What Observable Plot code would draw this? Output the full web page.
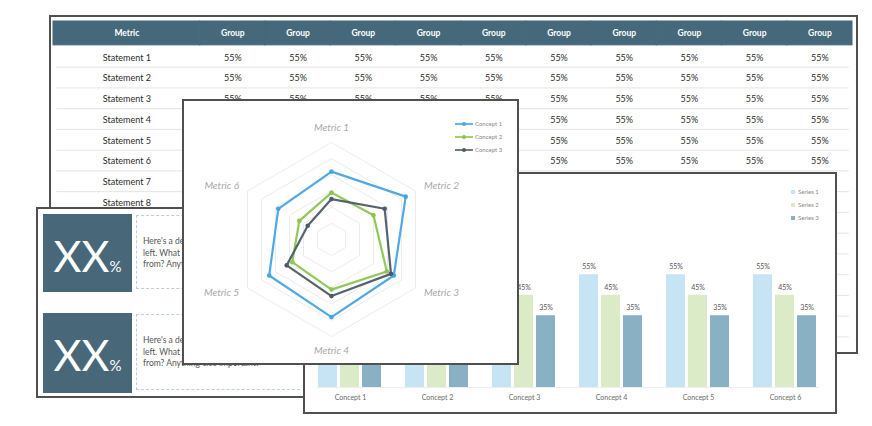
<!DOCTYPE html>
<html><head><meta charset="utf-8">
<script src="https://cdn.jsdelivr.net/npm/d3@7"></script>
<script src="https://cdn.jsdelivr.net/npm/@observablehq/plot@0.6"></script>
<style>
html,body{margin:0;padding:0;background:#fff;}
body{width:872px;height:426px;position:relative;overflow:hidden;font-family:Lato,"Open Sans",sans-serif;}
.panel{position:absolute;box-sizing:border-box;border:2px solid #505050;background:#fff;overflow:hidden;}
.panel svg{display:block;}
.legend{position:absolute;font-size:6px;color:#8a8a8a;line-height:13px;}
.legend .item{display:flex;align-items:center;height:13px;}
.card{position:absolute;left:5px;width:89px;background:#48687a;color:#fff;display:flex;justify-content:center;align-items:baseline;padding-top:16px;box-sizing:border-box;}
.card .big{font-size:43px;line-height:52px;}
.card .pct{font-size:15px;}
.dash{position:absolute;left:98px;width:164px;border-top:1.5px dashed #bccfda;border-bottom:1.5px dashed #bccfda;border-left:1px dashed #bccfda;box-sizing:border-box;}
.desc{position:absolute;left:105px;font-size:8.5px;color:#555;line-height:11.5px;white-space:nowrap;}
</style></head><body>
<div id="table" class="panel" style="left:49px;top:15px;width:809px;height:339px"></div>
<div id="cards" class="panel" style="left:36px;top:207px;width:269px;height:191px"></div>
<div id="bars" class="panel" style="left:303px;top:172px;width:534px;height:242px"></div>
<div id="radar" class="panel" style="left:182px;top:99px;width:337px;height:266px"></div>
<script>
// ---------- data ----------
const tableColumns = ["Metric","Group","Group","Group","Group","Group","Group","Group","Group","Group","Group"];
const statements = ["Statement 1","Statement 2","Statement 3","Statement 4","Statement 5","Statement 6","Statement 7","Statement 8","Statement 9","Statement 10","Statement 11","Statement 12","Statement 13","Statement 14","Statement 15"];
const tableValues = [
  [55,55,55,55,55,55,55,55,55,55],
  [55,55,55,55,55,55,55,55,55,55],
  [55,55,55,55,55,55,55,55,55,55],
  [55,55,55,55,55,55,55,55,55,55],
  [55,55,55,55,55,55,55,55,55,55],
  [55,55,55,55,55,55,55,55,55,55],
  [55,55,55,55,55,55,55,55,55,55],
  [55,55,55,55,55,55,55,55,55,55],
  [55,55,55,55,55,55,55,55,55,55],
  [55,55,55,55,55,55,55,55,55,55],
  [55,55,55,55,55,55,55,55,55,55],
  [55,55,55,55,55,55,55,55,55,55],
  [55,55,55,55,55,55,55,55,55,55],
  [55,55,55,55,55,55,55,55,55,55],
  [55,55,55,55,55,55,55,55,55,55]
];

const metrics = ["Metric 1","Metric 2","Metric 3","Metric 4","Metric 5","Metric 6"];
const conceptNames = ["Concept 1","Concept 2","Concept 3"];
const concept1 = [42, 53, 44.5, 48, 44.5, 38];
const concept2 = [29, 30, 39.5, 31, 28, 23];
const concept3 = [25, 38, 42.5, 35, 32, 17];
const ringLevels = [10, 20, 30, 40, 50, 60];
const radarColors = ["#45a5e2", "#8cc551", "#4c5b67"];

const barConcepts = ["Concept 1","Concept 2","Concept 3","Concept 4","Concept 5","Concept 6"];
const seriesNames = ["Series 1","Series 2","Series 3"];
const series1 = [55, 55, 55, 55, 55, 55];
const series2 = [45, 45, 45, 45, 45, 45];
const series3 = [35, 35, 35, 35, 35, 35];
const barColors = ["#c7e4f5", "#dcebc7", "#89b0c3"];

const cardValue = "XX";
const cardText = ["Here's a description of the number on the", "left. What does it mean? Where is it", "from? Anything else important?"];

// ---------- table ----------
{
  const header = tableColumns.map((name, i) => ({name, x1: i === 0 ? 0 : 2.25 + i - 1, x2: i === 0 ? 2.25 : 2.25 + i}));
  const cells = statements.flatMap((s, r) => tableValues[r].map((v, c) => ({row: r, col: c + 1, text: v + "%"})));
  const chart = Plot.plot({
    width: 805, height: 335, margin: 0,
    x: {domain: [0, 12.25], range: [2, 801], axis: null},
    y: {domain: [-1.2, 14.75], range: [4, 335], axis: null},
    style: {fontFamily: "Lato, sans-serif", background: "white"},
    marks: [
      Plot.rect(header, {x1: "x1", x2: "x2", y1: () => -1.2, y2: () => -0.05, fill: "#46687b", stroke: "#46687b", strokeWidth: 1}),
      Plot.text(header, {x: d => (d.x1 + d.x2) / 2, y: () => -0.62, text: "name", fill: "white", fontWeight: "bold", fontSize: 8.5}),
      Plot.ruleY(d3.range(1, statements.length), {y: d => d, x1: () => 0.05, x2: () => 12.2, stroke: "#e4e4e4"}),
      Plot.text(statements, {x: () => 1.125, y: (d, i) => i + 0.55, text: d => d, fontSize: 9, fill: "#2b2b2b"}),
      Plot.text(cells, {x: d => 2.25 + d.col - 0.5, y: d => d.row + 0.55, text: "text", fontSize: 9, fill: "#2b2b2b"})
    ]
  });
  document.getElementById("table").appendChild(chart);
}

// ---------- cards ----------
{
  const el = document.getElementById("cards");
  [0, 1].forEach(k => {
    const top = k === 0 ? 5 : 104;
    const h = k === 0 ? 78 : 80;
    const card = document.createElement("div");
    card.className = "card";
    card.style.top = top + "px"; card.style.height = h + "px";
    card.innerHTML = `<span class="big">${cardValue}</span><span class="pct">%</span>`;
    el.appendChild(card);
    const dash = document.createElement("div");
    dash.className = "dash";
    dash.style.top = (top + 1) + "px"; dash.style.height = (h - 4) + "px";
    el.appendChild(dash);
    const desc = document.createElement("div");
    desc.className = "desc";
    desc.style.top = (top + 22) + "px";
    desc.innerHTML = cardText.join("<br>");
    el.appendChild(desc);
  });
}

// ---------- bars ----------
{
  const allSeries = [series1, series2, series3];
  const barData = barConcepts.flatMap((c, i) => seriesNames.map((s, j) => ({concept: c, series: s, value: allSeries[j][i]})));
  const chart = Plot.plot({
    width: 530, height: 238,
    marginLeft: 0, marginRight: 6, marginTop: 8, marginBottom: 25,
    fx: {domain: barConcepts, paddingInner: 0.245, paddingOuter: 0.1225, label: null, axis: "bottom", tickSize: 0, tickPadding: 8},
    x: {domain: seriesNames, paddingInner: 0.13, paddingOuter: 0, axis: null},
    y: {domain: [0, 100], axis: null},
    color: {domain: seriesNames, range: barColors},
    style: {fontFamily: "Lato, sans-serif", fontSize: "7px", color: "#6a6a6a", background: "white"},
    marks: [
      Plot.frame({anchor: "bottom", stroke: "#eeeeee", facet: "super"}),
      Plot.barY(barData, {fx: "concept", x: "series", y: "value", fill: "series"}),
      Plot.text(barData, {fx: "concept", x: "series", y: "value", text: d => d.value + "%", dy: -8, fill: "#555", fontSize: 7})
    ]
  });
  const el = document.getElementById("bars");
  el.appendChild(chart);
  const lg = document.createElement("div");
  lg.className = "legend";
  lg.style.left = "486px"; lg.style.top = "11px";
  lg.innerHTML = seriesNames.map((s, j) => `<div class="item"><span style="display:inline-block;width:4px;height:4px;background:${barColors[j]};margin-right:3px"></span>${s}</div>`).join("");
  el.appendChild(lg);
}

// ---------- radar ----------
{
  const n = metrics.length;
  const ang = i => i * 2 * Math.PI / n;
  const ringPts = ringLevels.flatMap(l => d3.range(n + 1).map(i => ({level: l, x: l * Math.sin(ang(i % n)), y: l * Math.cos(ang(i % n))})));
  const allConcepts = [concept1, concept2, concept3];
  const pts = conceptNames.flatMap((c, k) => d3.range(n + 1).map(i => ({concept: c, idx: i % n, x: allConcepts[k][i % n] * Math.sin(ang(i % n)), y: allConcepts[k][i % n] * Math.cos(ang(i % n))})));
  const labelR = i => 63 + 6 * Math.abs(Math.cos(ang(i)));
  const labels = metrics.map((m, i) => ({m, i, x: labelR(i) * Math.sin(ang(i)), y: labelR(i) * Math.cos(ang(i))}));
  const labelStyle = {x: "x", y: "y", text: "m", fill: "#a8a8a8", fontStyle: "italic", fontSize: 10};
  const chart = Plot.plot({
    width: 333, height: 262,
    marginLeft: 50, marginRight: 89, marginTop: 41, marginBottom: 27,
    x: {domain: [-60, 60], axis: null},
    y: {domain: [-60, 60], axis: null},
    color: {domain: conceptNames, range: radarColors},
    style: {fontFamily: "Lato, sans-serif", background: "white"},
    marks: [
      Plot.line(ringPts, {x: "x", y: "y", z: "level", stroke: "#ececec", strokeWidth: 1}),
      Plot.line(pts, {x: "x", y: "y", z: "concept", stroke: "concept", strokeWidth: 2.2, strokeOpacity: 0.95}),
      Plot.dot(pts.filter((d, j) => j % (n + 1) !== n), {x: "x", y: "y", fill: "concept", r: 2.3}),
      Plot.text(labels, {...labelStyle, filter: d => d.i === 0 || d.i === 3, textAnchor: "middle"}),
      Plot.text(labels, {...labelStyle, filter: d => d.i === 1 || d.i === 2, textAnchor: "start"}),
      Plot.text(labels, {...labelStyle, filter: d => d.i === 4 || d.i === 5, textAnchor: "end"})
    ]
  });
  const el = document.getElementById("radar");
  el.appendChild(chart);
  const lg = document.createElement("div");
  lg.className = "legend";
  lg.style.left = "271px"; lg.style.top = "16px";
  lg.innerHTML = conceptNames.map((c, k) => `<div class="item"><svg width="18" height="6" style="margin-right:2px"><line x1="0" y1="3" x2="18" y2="3" stroke="${radarColors[k]}" stroke-width="1.6"/><circle cx="9" cy="3" r="2" fill="${radarColors[k]}"/></svg>${c}</div>`).join("");
  el.appendChild(lg);
}
</script>
</body></html>
